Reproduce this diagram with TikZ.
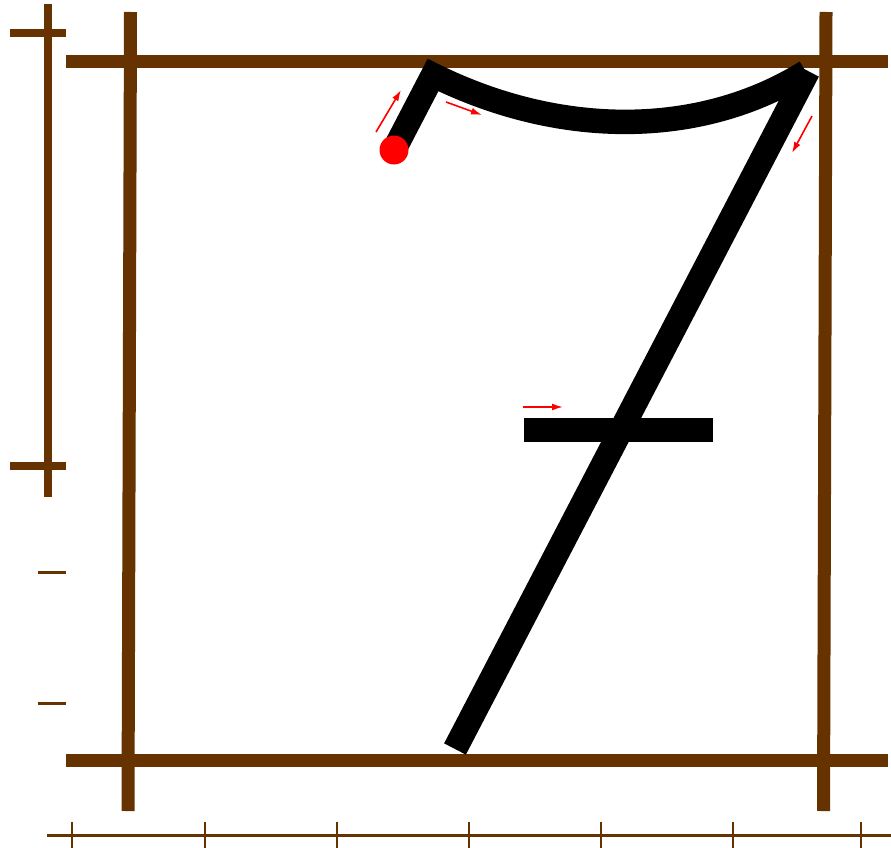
\documentclass[tikz,border=0pt]{standalone}
\usepackage{tikz}
\usetikzlibrary{arrows.meta}
\definecolor{framebrown}{RGB}{102,51,0}
\definecolor{hintred}{RGB}{255,0,0}
\tikzset{
  guide/.style={framebrown,line width=13pt},
  ruler/.style={framebrown,line width=8pt},
  rulerthin/.style={framebrown,line width=3pt},
  rulertick/.style={framebrown,line width=2pt},
  pen/.style={black,line width=24.5pt,line join=miter},
  hint/.style={hintred,line width=1.6pt,-{Latex[length=11pt,width=7pt]}},
}
\begin{document}
\begin{tikzpicture}[x=1pt,y=-1pt]
  \path[use as bounding box,fill=white] (0,0) rectangle (891,848);

  % writing frame
  \draw[guide] (66,61.5) -- (888,61.5);
  \draw[guide] (66,760.5) -- (888,760.5);
  \draw[guide] (130.5,12) -- (128,811);
  \draw[guide] (826,12) -- (823.5,811);

  % left ruler
  \draw[ruler] (48,4) -- (48,497);
  \draw[ruler] (10,33) -- (66,33);
  \draw[ruler] (10,466) -- (66,466);
  \draw[rulerthin] (38,572) -- (66,572);
  \draw[rulerthin] (38,703) -- (66,703);

  % bottom ruler
  \draw[rulerthin] (47,835) -- (891,835);
  \foreach \x in {72,205,337,469,601,733,861}
    \draw[rulertick] (\x,822) -- (\x,848);

  % the seven
  \coordinate (start) at (394,150);
  \coordinate (hook) at (433,75);
  \coordinate (top) at (806,72);
  \coordinate (foot) at (455,749);
  \coordinate (barL) at (524,430);
  \coordinate (barR) at (713,430);
  \draw[pen] (start) -- (hook) .. controls (560,138) and (700,138) .. (top);
  \draw[pen] (808,71) -- (foot);
  \draw[pen] (barL) -- (barR);
  \fill[hintred] (start) circle (14.5);

  % stroke order hints
  \draw[hint] (376,132) -- (401,90);
  \draw[hint] (446,102) -- (482,115);
  \draw[hint] (812,116) -- (792,153);
  \draw[hint] (523,407) -- (563,407);
\end{tikzpicture}
\end{document}
